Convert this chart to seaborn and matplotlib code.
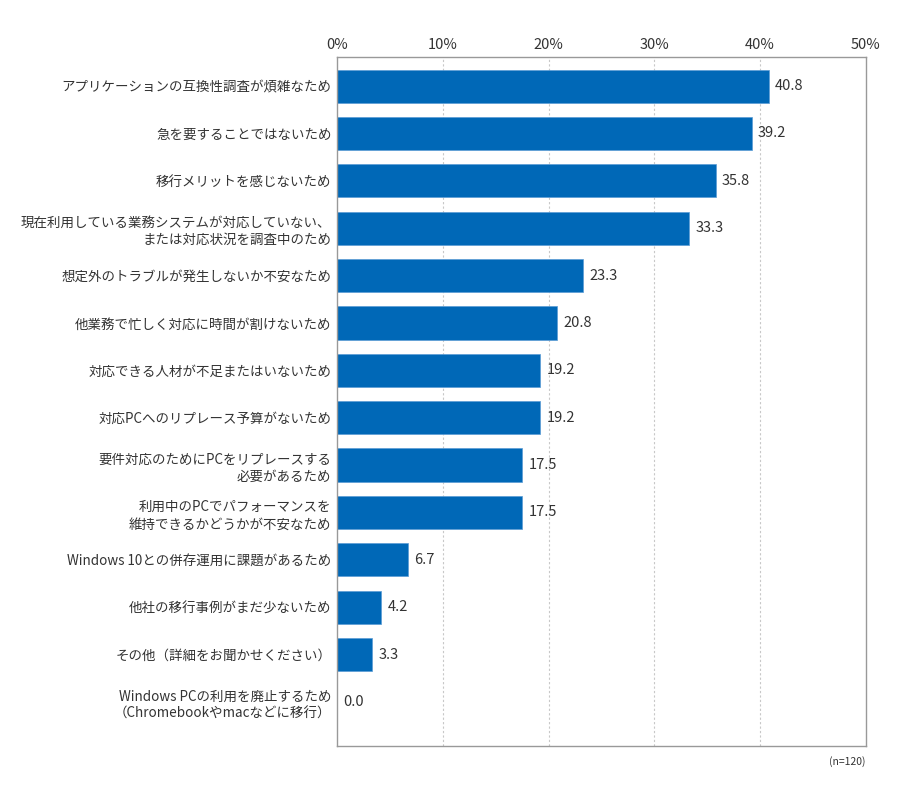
import pandas as pd
import seaborn as sns
import matplotlib.pyplot as plt

# データ
labels = [
    "アプリケーションの互換性調査が煩雑なため",
    "急を要することではないため",
    "移行メリットを感じないため",
    "現在利用している業務システムが対応していない、\nまたは対応状況を調査中のため",
    "想定外のトラブルが発生しないか不安なため",
    "他業務で忙しく対応に時間が割けないため",
    "対応できる人材が不足またはいないため",
    "対応PCへのリプレース予算がないため",
    "要件対応のためにPCをリプレースする\n必要があるため",
    "利用中のPCでパフォーマンスを\n維持できるかどうかが不安なため",
    "Windows 10との併存運用に課題があるため",
    "他社の移行事例がまだ少ないため",
    "その他（詳細をお聞かせください）",
    "Windows PCの利用を廃止するため\n（Chromebookやmacなどに移行）",
]
values = [40.8, 39.2, 35.8, 33.3, 23.3, 20.8, 19.2, 19.2, 17.5, 17.5, 6.7, 4.2, 3.3, 0.0]
xticks = [0, 10, 20, 30, 40, 50]

df = pd.DataFrame({"label": labels, "value": values})

sns.set_style("white")
plt.rcParams['font.family'] = ['Noto Sans CJK JP', 'DejaVu Sans']
text_color = "#333333"

fig = plt.figure(figsize=(9, 8), dpi=100)
ax = fig.add_axes([0.3744, 0.0675, 0.5878, 0.861])

sns.barplot(data=df, x="value", y="label", color="#0068b7", width=0.7,
            saturation=1, ax=ax, edgecolor="#5a9bd5", linewidth=0.5)

ax.set_xlim(0, 50)
ax.set_ylim(13.93, -0.61)
ax.set_xticks(xticks)
ax.set_xticklabels([f"{t}%" for t in xticks], fontsize=10.5, color=text_color)
ax.get_xticklabels()[0].set_ha("left")
ax.xaxis.tick_top()
ax.tick_params(axis="x", length=0, pad=4)
ax.tick_params(axis="y", length=0, pad=4)
ax.set_yticks(range(len(labels)))
ax.set_yticklabels(labels, fontsize=9.7, color=text_color, linespacing=1.3)
ax.set_xlabel("")
ax.set_ylabel("")

for t in xticks[1:-1]:
    ax.axvline(t, color="#c8c8c8", linestyle=(0, (2, 2)), linewidth=0.8, zorder=0)

for s in ax.spines.values():
    s.set_color("#999999")
    s.set_linewidth(1)

for i, v in enumerate(values):
    ax.text(v + 0.6, i, f"{v:.1f}", va="center", ha="left", fontsize=10.5, color=text_color)

ax.text(1.0, -0.015, "(n=120)", transform=ax.transAxes, ha="right", va="top",
        fontsize=7.5, color=text_color)

fig.savefig("out.png", dpi=100)
